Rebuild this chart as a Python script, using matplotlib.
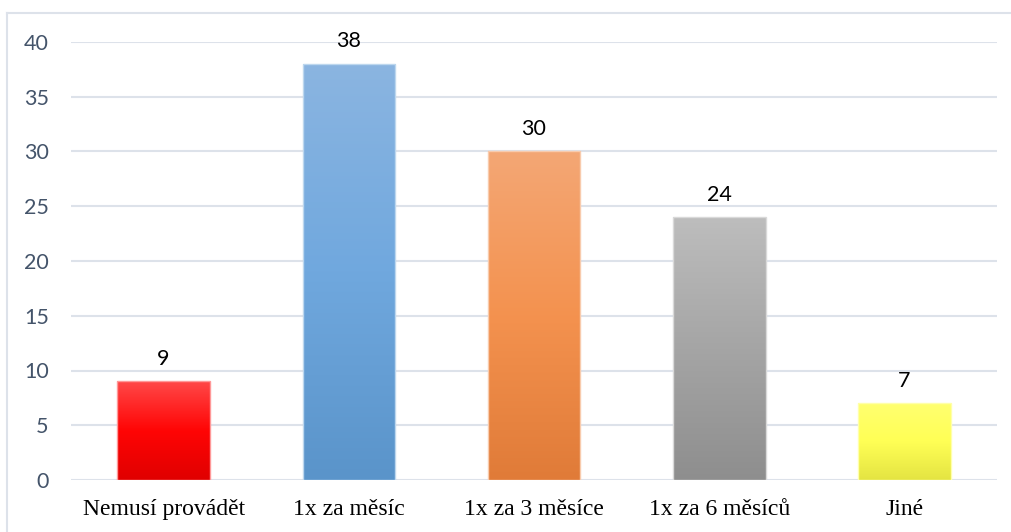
import numpy as np
import matplotlib.pyplot as plt
from matplotlib.colors import LinearSegmentedColormap
from matplotlib.patches import Rectangle

# data
categories = ["Nemusí provádět", "1x za měsíc", "1x za 3 měsíce", "1x za 6 měsíců", "Jiné"]
values = [9, 38, 30, 24, 7]

# gradient stops per bar (top, middle, bottom)
bar_colors = [
    ("#FF4848", "#FF0505", "#E00000"),
    ("#8BB5E1", "#70A8DE", "#5A94CA"),
    ("#F3A775", "#F4924F", "#E07B38"),
    ("#BDBDBD", "#A5A5A5", "#8E8E8E"),
    ("#FFFF70", "#FFFF55", "#E4E442"),
]
edge_colors = ["#FF9999", "#BDD7EE", "#F8CBAD", "#D9D9D9", "#FFFFAA"]

GRID_COLOR = "#DDE2EA"
TICK_COLOR = "#44546A"
BAR_WIDTH = 0.5

fig = plt.figure(figsize=(10.11, 5.32), dpi=100)
ax = fig.add_axes([71 / 1011, 52 / 532, 926 / 1011, 438 / 532])

# outer chart frame (left and top edges visible)
fig.add_artist(plt.Line2D([7 / 1011, 7 / 1011], [0, 1 - 13 / 532],
                          transform=fig.transFigure, color=GRID_COLOR, lw=1.5))
fig.add_artist(plt.Line2D([7 / 1011, 1], [1 - 13 / 532, 1 - 13 / 532],
                          transform=fig.transFigure, color=GRID_COLOR, lw=1.5))

x = np.arange(len(categories))
ax.set_xlim(-0.5, len(categories) - 0.5)
ax.set_ylim(0, 40)

ax.set_yticks(np.arange(0, 41, 5))
ax.yaxis.grid(True, color=GRID_COLOR, lw=1.5)
ax.set_axisbelow(True)
for s in ax.spines.values():
    s.set_visible(False)

bars = ax.bar(x, values, width=BAR_WIDTH, color="none")
grad = np.linspace(0, 1, 256).reshape(-1, 1)
for b, cols, ec in zip(bars, bar_colors, edge_colors):
    bx, by = b.get_x(), b.get_y()
    bw, bh = b.get_width(), b.get_height()
    cmap = LinearSegmentedColormap.from_list("g", [cols[2], cols[1], cols[0]])
    im = ax.imshow(grad, cmap=cmap, aspect="auto", origin="lower",
                   extent=[bx, bx + bw, by, by + bh], zorder=2)
    rect = Rectangle((bx, by), bw, bh, fc="none", ec=ec, lw=1, zorder=3)
    ax.add_patch(rect)
    im.set_clip_path(rect)

for xi, v in zip(x, values):
    ax.annotate(str(v), (xi, v), xytext=(0, 9), textcoords="offset points",
                ha="center", va="bottom", fontsize=15.5, family="Lato", color="#000000")

ax.set_xticks(x)
ax.set_xticklabels(categories, family="Liberation Serif", fontsize=17, color="#000000")
ax.tick_params(axis="x", length=0, pad=14)
ax.tick_params(axis="y", length=0, pad=16, labelsize=15.5, labelcolor=TICK_COLOR)
for lab in ax.get_yticklabels():
    lab.set_family("Lato")

fig.savefig("out.png", dpi=100)
